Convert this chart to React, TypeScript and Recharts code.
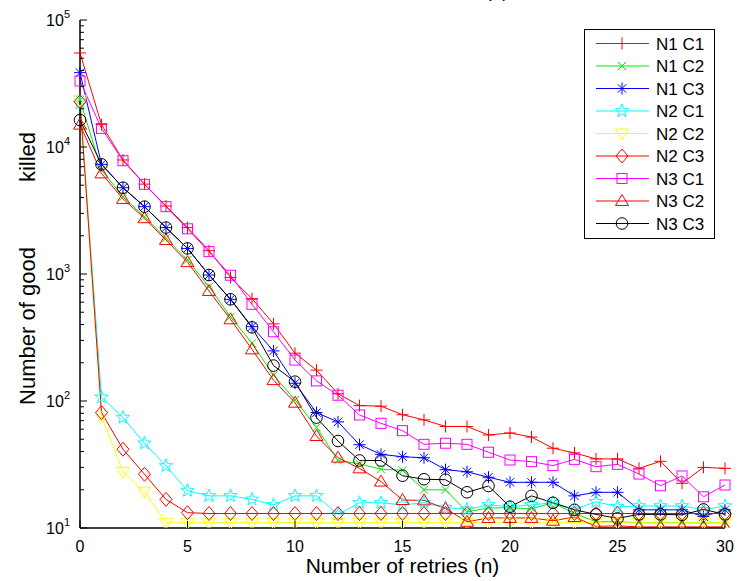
import { Legend, Line, LineChart, XAxis, YAxis } from 'recharts'

const FONT = '"Liberation Sans", Arial, Helvetica, sans-serif'

const retries = [
  0, 1, 2, 3, 4, 5, 6, 7, 8, 9, 10, 11, 12, 13, 14, 15, 16, 17, 18, 19, 20, 21, 22, 23, 24, 25, 26,
  27, 28, 29, 30,
]
const xTicks = [0, 5, 10, 15, 20, 25, 30]
const yTicks = [
  10, 20, 30, 40, 50, 60, 70, 80, 90, 100, 200, 300, 400, 500, 600, 700, 800, 900, 1000, 2000, 3000,
  4000, 5000, 6000, 7000, 8000, 9000, 10000, 20000, 30000, 40000, 50000, 60000, 70000, 80000, 90000,
  100000,
]

const n1c1 = [
  55000, 15000, 7900, 5100, 3430, 2320, 1525, 940, 640, 405, 238, 175, 114, 92, 91, 78, 71, 63, 63,
  54, 56, 52, 42.5, 39, 35, 35, 29.5, 33.5, 22.5, 30, 29.5,
]
const n1c2 = [
  23400, 6600, 4060, 2820, 1910, 1290, 794, 461, 285, 160, 102, 62, 34, 32, 29, 28.5, 20, 20, 13.4,
  14.4, 14.4, 14.2, 15.8, 13, 11.2, 11.2, 11, 11, 11, 11, 11,
]
const n1c3 = [
  38500, 7300, 4780, 3390, 2320, 1590, 982, 632, 385, 248, 138, 81, 68.5, 45.3, 38, 36.4, 35.7,
  28.8, 27.7, 25.1, 22.9, 22.9, 22.9, 17.9, 19.1, 19.1, 13.9, 13.9, 13.9, 12.3, 13.9,
]
const n2c1 = [
  22000, 107, 74, 46.5, 30.8, 19.7, 17.9, 17.9, 16.8, 15.2, 17.9, 17.9, 12.8, 15.8, 15.8, 15.2,
  15.8, 14.5, 14, 15.2, 14.7, 15.2, 15.8, 14, 16.1, 14.7, 14.9, 14.9, 14.9, 13.9, 14.9,
]
const n2c2 = [
  23400, 76, 27.7, 19.3, 11, 11, 11, 11, 11, 11, 11, 11, 11, 11, 11, 11, 11, 11, 11, 11, 11, 11,
  11, 11, 11, 11, 11, 11, 11, 11, 11,
]
const n2c3 = [
  22700, 81, 41.7, 26.5, 16.8, 13.2, 13, 13, 13, 13, 13, 13, 13, 13, 13, 13, 13, 13, 13, 13, 13, 13,
  13, 13, 13, 13, 13, 13, 13, 13, 13,
]
const n3c1 = [
  33100, 14000, 7800, 5080, 3390, 2270, 1500, 977, 577, 351, 210, 144, 111, 77.6, 66.7, 58.4, 45.6,
  46.5, 45.6, 39.5, 34.3, 33.3, 31, 34.7, 30.4, 31.7, 26.6, 21.5, 25.7, 17.6, 21.8,
]
const n3c2 = [
  15000, 6200, 3900, 2750, 1850, 1240, 735, 440, 255, 146, 97, 53, 35.8, 29.5, 23.2, 16.6, 16.5,
  14.2, 11.2, 12, 12, 12, 11.4, 12.2, 10.3, 10.4, 10.2, 10.2, 10.2, 10.2, 10.2,
]
const n3c3 = [
  16300, 7300, 4780, 3390, 2320, 1590, 982, 632, 380, 190, 142, 74, 48.4, 34, 34, 25.8, 24.2, 24,
  19.1, 21.4, 14.7, 17.9, 15.8, 13.9, 12.8, 11.9, 12.8, 12.8, 12.7, 14, 12.8,
]

type Shape = 'plus' | 'cross' | 'asterisk' | 'star' | 'triDown' | 'diamond' | 'square' | 'triUp' | 'circle'

const series: { key: string; name: string; color: string; shape: Shape; values: number[] }[] = [
  { key: 'n1c1', name: 'N1 C1', color: '#ff0000', shape: 'plus', values: n1c1 },
  { key: 'n1c2', name: 'N1 C2', color: '#00ee00', shape: 'cross', values: n1c2 },
  { key: 'n1c3', name: 'N1 C3', color: '#0000ff', shape: 'asterisk', values: n1c3 },
  { key: 'n2c1', name: 'N2 C1', color: '#00ffff', shape: 'star', values: n2c1 },
  { key: 'n2c2', name: 'N2 C2', color: '#ffff00', shape: 'triDown', values: n2c2 },
  { key: 'n2c3', name: 'N2 C3', color: '#ff0000', shape: 'diamond', values: n2c3 },
  { key: 'n3c1', name: 'N3 C1', color: '#ff00ff', shape: 'square', values: n3c1 },
  { key: 'n3c2', name: 'N3 C2', color: '#ff0000', shape: 'triUp', values: n3c2 },
  { key: 'n3c3', name: 'N3 C3', color: '#000000', shape: 'circle', values: n3c3 },
]

const data = retries.map((n, i) => {
  const row: Record<string, number> = { n }
  series.forEach((s) => {
    row[s.key] = s.values[i]
  })
  return row
})

function starPoints(x: number, y: number, ro: number, ri: number) {
  const pts: string[] = []
  for (let k = 0; k < 10; k++) {
    const r = k % 2 === 0 ? ro : ri
    const a = -Math.PI / 2 + (k * Math.PI) / 5
    pts.push(`${x + r * Math.cos(a)},${y + r * Math.sin(a)}`)
  }
  return pts.join(' ')
}

function Marker({ shape, x, y, color }: { shape: Shape; x: number; y: number; color: string }) {
  const p = { stroke: color, strokeWidth: 1, fill: 'none' }
  switch (shape) {
    case 'plus':
      return <path {...p} d={`M${x - 6},${y}H${x + 6}M${x},${y - 6}V${y + 6}`} />
    case 'cross':
      return <path {...p} d={`M${x - 4},${y - 4}L${x + 4},${y + 4}M${x - 4},${y + 4}L${x + 4},${y - 4}`} />
    case 'asterisk':
      return (
        <path
          {...p}
          d={`M${x - 6},${y}H${x + 6}M${x},${y - 6}V${y + 6}M${x - 4.2},${y - 4.2}L${x + 4.2},${y + 4.2}M${x - 4.2},${y + 4.2}L${x + 4.2},${y - 4.2}`}
        />
      )
    case 'star':
      return <polygon {...p} points={starPoints(x, y, 7, 2.9)} />
    case 'triDown':
      return <polygon {...p} points={`${x - 6.5},${y - 4.5} ${x + 6.5},${y - 4.5} ${x},${y + 6.5}`} />
    case 'diamond':
      return <polygon {...p} points={`${x},${y - 7} ${x + 6},${y} ${x},${y + 7} ${x - 6},${y}`} />
    case 'square':
      return <rect {...p} x={x - 5} y={y - 5} width={10} height={10} />
    case 'triUp':
      return <polygon {...p} points={`${x},${y - 6.5} ${x + 6.5},${y + 4.5} ${x - 6.5},${y + 4.5}`} />
    case 'circle':
      return <circle {...p} cx={x} cy={y} r={5.8} />
  }
}

function isDecade(v: number) {
  return Math.abs(Math.log10(v) - Math.round(Math.log10(v))) < 1e-9
}

const BottomTick = (props: any) => {
  const { x, y, payload } = props
  return (
    <g>
      <line x1={x} x2={x} y1={y} y2={y - 7} stroke="#000" />
      <text x={x} y={y + 24} textAnchor="middle" fontSize={16} fontFamily={FONT} fill="#000">
        {payload.value}
      </text>
    </g>
  )
}

const TopTick = (props: any) => {
  const { x, y } = props
  return <line x1={x} x2={x} y1={y} y2={y + 7} stroke="#000" />
}

const LeftTick = (props: any) => {
  const { x, y, payload } = props
  const major = isDecade(payload.value)
  return (
    <g>
      <line x1={x} x2={x + (major ? 7 : 4)} y1={y} y2={y} stroke="#000" />
      {major && (
        <text x={x - 10} y={y + 6} textAnchor="end" fontSize={16} fontFamily={FONT} fill="#000">
          10
          <tspan dy={-8} fontSize={11}>
            {Math.round(Math.log10(payload.value))}
          </tspan>
        </text>
      )}
    </g>
  )
}

const RightTick = (props: any) => {
  const { x, y, payload } = props
  const major = isDecade(payload.value)
  return <line x1={x} x2={x - (major ? 7 : 4)} y1={y} y2={y} stroke="#000" />
}

function LegendBox() {
  return (
    <svg width={131} height={210} style={{ display: 'block' }}>
      <rect x={0.5} y={0.5} width={130} height={209} fill="#fff" stroke="#000" />
      {series.map((s, i) => {
        const cy = 14.5 + i * 22.5
        return (
          <g key={s.key}>
            <line x1={12} x2={65} y1={cy} y2={cy} stroke={s.color} />
            <Marker shape={s.shape} x={38} y={cy} color={s.color} />
            <text x={72} y={cy + 6} fontSize={17} fontFamily={FONT} fill="#000">
              {s.name}
            </text>
          </g>
        )
      })}
    </svg>
  )
}

export default function App() {
  return (
    <div style={{ position: 'absolute', left: 0, top: 0, background: '#fff' }}>
      <LineChart width={753} height={581} data={data} margin={{ top: 20, right: 28, left: 0, bottom: 0 }}>
        <XAxis
          dataKey="n"
          type="number"
          domain={[0, 30]}
          ticks={xTicks}
          interval={0}
          height={53}
          tickSize={0}
          tickMargin={0}
          tickLine={false}
          axisLine={{ stroke: '#000', strokeWidth: 1.5 }}
          tick={BottomTick}
          label={{
            value: 'Number of retries (n)',
            position: 'insideBottom',
            offset: 8,
            fontSize: 21,
            fontFamily: FONT,
            fill: '#000',
          }}
        />
        <XAxis
          xAxisId="top"
          orientation="top"
          dataKey="n"
          type="number"
          domain={[0, 30]}
          ticks={xTicks}
          interval={0}
          height={0}
          tickSize={0}
          tickMargin={0}
          tickLine={false}
          axisLine={{ stroke: '#444', strokeWidth: 1 }}
          tick={TopTick}
        />
        <YAxis
          yAxisId="y"
          scale="log"
          type="number"
          domain={[10, 100000]}
          allowDataOverflow
          ticks={yTicks}
          interval={0}
          width={80}
          tickSize={0}
          tickMargin={0}
          tickLine={false}
          axisLine={{ stroke: '#000', strokeWidth: 1.5 }}
          tick={LeftTick}
        />
        <YAxis
          yAxisId="right"
          orientation="right"
          scale="log"
          type="number"
          domain={[10, 100000]}
          allowDataOverflow
          ticks={yTicks}
          interval={0}
          width={0}
          tickSize={0}
          tickMargin={0}
          tickLine={false}
          axisLine={{ stroke: '#222', strokeWidth: 1.2 }}
          tick={RightTick}
        />
        <text x={497} y={-3} textAnchor="middle" fontSize={19} fontFamily={FONT} fill="#000">
          (a)
        </text>
        <text
          transform="translate(35,326) rotate(-90)"
          textAnchor="middle"
          fontSize={22}
          fontFamily={FONT}
          fill="#000"
        >
          Number of good
        </text>
        <text
          transform="translate(35,157) rotate(-90)"
          textAnchor="middle"
          fontSize={22}
          fontFamily={FONT}
          fill="#000"
        >
          killed
        </text>
        {series.map((s) => (
          <Line
            key={s.key}
            yAxisId="y"
            dataKey={s.key}
            name={s.name}
            stroke={s.color}
            strokeWidth={1}
            isAnimationActive={false}
            dot={(props: any) => (
              <Marker key={`${s.key}-${props.index}`} shape={s.shape} x={props.cx} y={props.cy} color={s.color} />
            )}
            activeDot={false}
          />
        ))}
        <Legend
          layout="horizontal"
          verticalAlign="middle"
          align="center"
          content={() => <LegendBox />}
          wrapperStyle={{ position: 'absolute', left: 584, top: 29, width: 131, height: 210 }}
        />
      </LineChart>
    </div>
  )
}
